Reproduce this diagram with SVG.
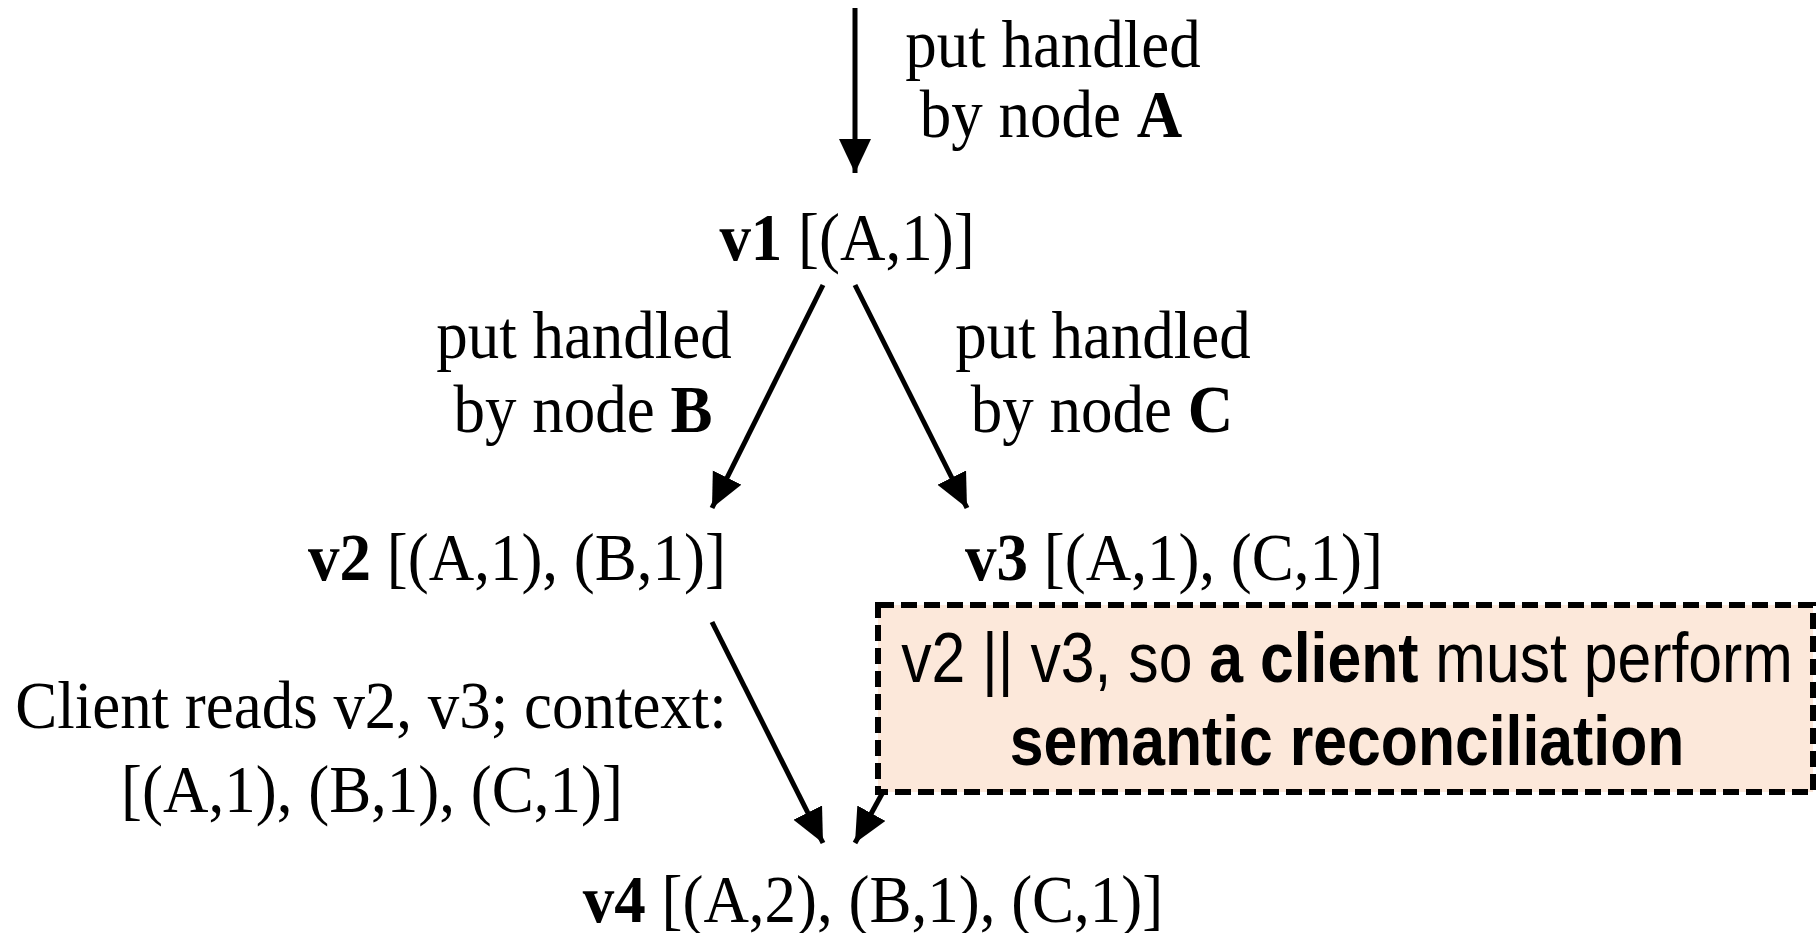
<svg xmlns="http://www.w3.org/2000/svg" width="1816" height="933" viewBox="0 0 1816 933">
<style>
.t{font-family:"Liberation Serif","Times New Roman",serif;font-size:68px;fill:#000;text-anchor:middle}
.b{font-weight:bold}
.s{font-family:"Liberation Sans",Arial,sans-serif;font-size:71px;fill:#000;text-anchor:middle}
.c{stroke:#000;stroke-width:5;fill:none;marker-end:url(#ah)}
</style>
<defs>
<marker id="ah" markerUnits="userSpaceOnUse" markerWidth="36" markerHeight="34" refX="34" refY="16" orient="auto" viewBox="0 0 36 34">
<path d="M0,0 L34,16 L0,32 z" fill="#000"/>
</marker>
</defs>
<rect width="1816" height="933" fill="#fff"/>
<g id="connectors">
<line class="c" x1="855" y1="8" x2="855" y2="173"/>
<line class="c" x1="823" y1="285" x2="712" y2="508"/>
<line class="c" x1="855" y1="285" x2="967" y2="508"/>
<line class="c" x1="712" y1="622" x2="823" y2="843"/>
<line class="c" x1="883" y1="792" x2="855" y2="843"/>
</g>
<g id="label-A">
<text class="t" transform="translate(1053,67) scale(0.926,1)">put handled</text>
<text class="t" transform="translate(1051,137) scale(0.926,1)">by node <tspan class="b">A</tspan></text>
</g>
<g id="v1">
<text class="t" transform="translate(847,260) scale(0.926,1)"><tspan class="b">v1</tspan> [(A,1)]</text>
</g>
<g id="label-B">
<text class="t" transform="translate(584,358) scale(0.926,1)">put handled</text>
<text class="t" transform="translate(583,432) scale(0.926,1)">by node <tspan class="b">B</tspan></text>
</g>
<g id="label-C">
<text class="t" transform="translate(1103,358) scale(0.926,1)">put handled</text>
<text class="t" transform="translate(1102,432) scale(0.926,1)">by node <tspan class="b">C</tspan></text>
</g>
<g id="v2">
<text class="t" transform="translate(517,580) scale(0.926,1)"><tspan class="b">v2</tspan> [(A,1), (B,1)]</text>
</g>
<g id="v3">
<text class="t" transform="translate(1174,580) scale(0.926,1)"><tspan class="b">v3</tspan> [(A,1), (C,1)]</text>
</g>
<g id="note">
<rect x="878" y="605" width="935" height="187" fill="#FCE8DA" stroke="#000" stroke-width="6" stroke-dasharray="16 7"/>
<text class="s" transform="translate(1347,682) scale(0.855,1)">v2 || v3, so <tspan class="b">a client</tspan> must perform</text>
<text class="s b" transform="translate(1347,765) scale(0.855,1)">semantic reconciliation</text>
</g>
<g id="label-client">
<text class="t" transform="translate(371,728) scale(0.926,1)">Client reads v2, v3; context:</text>
<text class="t" transform="translate(372,812) scale(0.926,1)">[(A,1), (B,1), (C,1)]</text>
</g>
<g id="v4">
<text class="t" transform="translate(873,922) scale(0.926,1)"><tspan class="b">v4</tspan> [(A,2), (B,1), (C,1)]</text>
</g>
</svg>
